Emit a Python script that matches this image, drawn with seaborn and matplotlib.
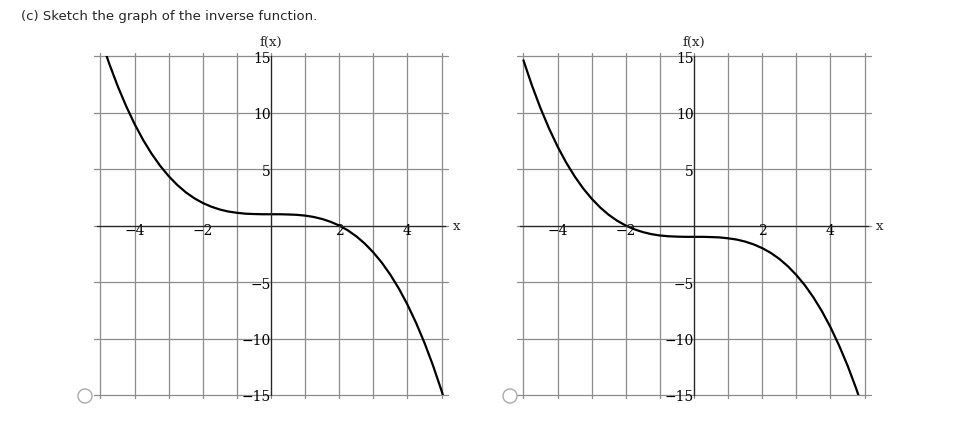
import matplotlib
matplotlib.use("Agg")
import matplotlib.pyplot as plt
import seaborn as sns
from matplotlib.patches import Circle

x_vals = [-5, -4.75, -4.5, -4.25, -4, -3.75, -3.5, -3.25, -3, -2.75, -2.5, -2.25,
          -2, -1.75, -1.5, -1.25, -1, -0.75, -0.5, -0.25, 0,
          0.25, 0.5, 0.75, 1, 1.25, 1.5, 1.75, 2, 2.25, 2.5, 2.75, 3, 3.25,
          3.5, 3.75, 4, 4.25, 4.5, 4.75, 5, 5.25, 5.5]
left_y = [16.63, 14.40, 12.39, 10.60, 9.0, 7.59, 6.36, 5.29, 4.38, 3.60, 2.95, 2.42,
          2.0, 1.67, 1.42, 1.24, 1.13, 1.05, 1.02, 1.0, 1.0,
          1.0, 0.98, 0.95, 0.88, 0.76, 0.58, 0.33, 0.0, -0.42, -0.95, -1.60, -2.38, -3.29,
          -4.36, -5.59, -7.0, -8.60, -10.39, -12.40, -14.63, -17.09, -19.8]
right_y = [14.63, 12.40, 10.39, 8.60, 7.0, 5.59, 4.36, 3.29, 2.38, 1.60, 0.95, 0.42,
           0.0, -0.33, -0.58, -0.76, -0.88, -0.95, -0.98, -1.0, -1.0,
           -1.0, -1.02, -1.05, -1.13, -1.24, -1.42, -1.67, -2.0, -2.42, -2.95, -3.60, -4.38, -5.29,
           -6.36, -7.59, -9.0, -10.60, -12.39, -14.40, -16.63, -19.09, -21.8]
x_ticks = [-4, -2, 2, 4]
y_ticks = [-15, -10, -5, 5, 10, 15]

sns.set_style("white")
plt.rcParams["font.family"] = ["DejaVu Serif"]
fig = plt.figure(figsize=(9.72, 4.35), dpi=100)
fig.text(0.022, 0.955, "(c) Sketch the graph of the inverse function.",
         fontsize=9.5, family="DejaVu Sans")

for left, ys in [(0.0998, left_y), (0.535, right_y)]:
    ax = fig.add_axes([left, 0.0897, 0.358, 0.779])
    ax.set_xlim(-5.1, 5.1)
    ax.set_ylim(-15, 15)
    for v in range(-5, 6):
        ax.axvline(v, ymin=-0.01, ymax=1.01, color="#8c8c8c", lw=0.9, zorder=0, clip_on=False)
    for h in range(-15, 16, 5):
        ax.axhline(h, xmin=-0.01, xmax=1.01, color="#8c8c8c", lw=0.9, zorder=0, clip_on=False)
    sns.lineplot(x=x_vals, y=ys, ax=ax, color="black", lw=1.6, sort=False)
    ax.spines["left"].set_position(("data", 0))
    ax.spines["bottom"].set_position(("data", 0))
    ax.spines["top"].set_visible(False)
    ax.spines["right"].set_visible(False)
    ax.spines["left"].set_linewidth(0.9)
    ax.spines["bottom"].set_linewidth(0.9)
    ax.set_xticks(x_ticks)
    ax.set_yticks(y_ticks)
    ax.set_xticks([v / 2 for v in range(-10, 11)], minor=True)
    ax.set_yticks(range(-15, 16), minor=True)
    ax.tick_params(axis="x", which="major", length=4, width=0.7, labelsize=10, pad=-2,
                   direction="in", colors="black")
    ax.tick_params(axis="y", which="major", length=4, width=0.7, labelsize=10, pad=0,
                   direction="in", colors="black")
    ax.tick_params(which="minor", length=2.5, width=0.5, direction="in")
    ax.text(5.45, 0, "x", ha="center", va="center", fontsize=9.5)
    ax.text(0, 15.7, "f(x)", ha="center", va="bottom", fontsize=9.5)
    ax.set_xlabel("")
    ax.set_ylabel("")

for cx in [85, 510]:
    fig.patches.append(Circle((cx, 435 - 397), 7, transform=None, fill=False,
                              ec="#aaaaaa", lw=1))

fig.savefig("out.png", dpi=100)
